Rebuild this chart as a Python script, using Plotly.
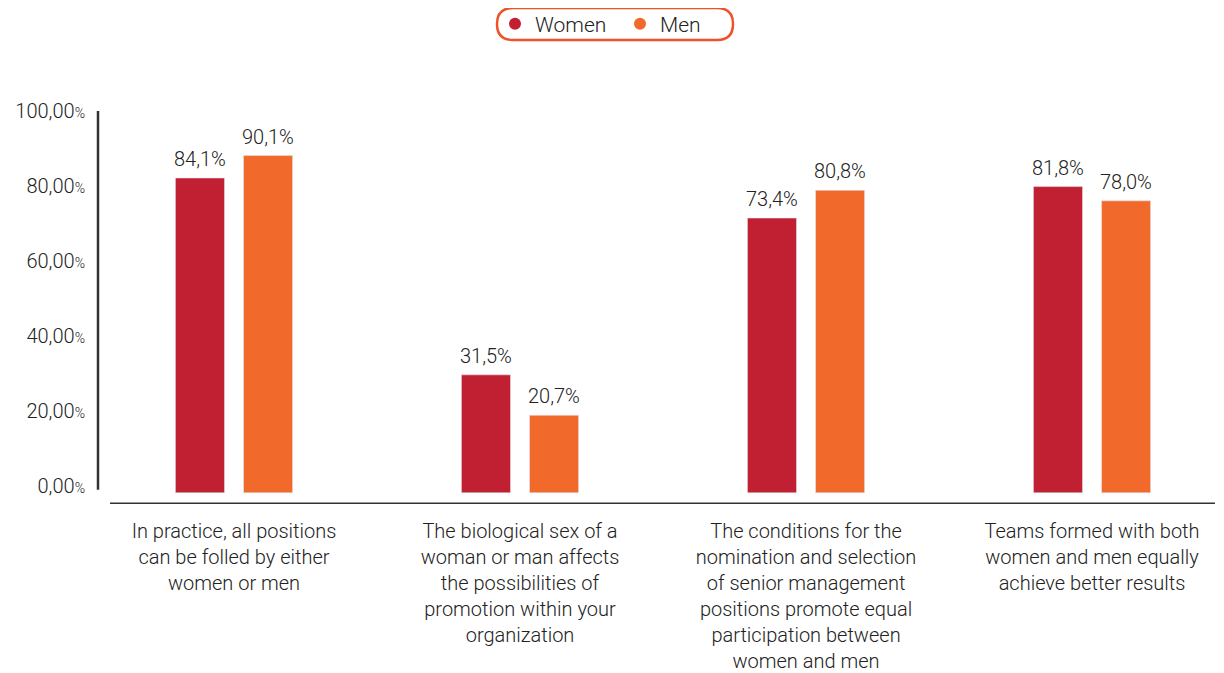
import plotly.graph_objects as go

categories = [
    "In practice, all positions<br>can be folled by either<br>women or men",
    "The biological sex of a<br>woman or man affects<br>the possibilities of<br>promotion within your<br>organization",
    "The conditions for the<br>nomination and selection<br>of senior management<br>positions promote equal<br>participation between<br>women and men",
    "Teams formed with both<br>women and men equally<br>achieve better results",
]
women = [84.1, 31.5, 73.4, 81.8]
men = [90.1, 20.7, 80.8, 78.0]
tick_vals = [0, 20, 40, 60, 80, 100]
tick_text = ["0,00", "20,00", "40,00", "60,00", "80,00", "100,00"]

WOMEN_C = "#C11F32"
MEN_C = "#F2692C"
FONT = "Roboto"
TXT = "#222222"

def fmt(v):
    return f"{v:.1f}".replace(".", ",") + "%"

fig = go.Figure()
for name, vals, col in [("Women", women, WOMEN_C), ("Men", men, MEN_C)]:
    fig.add_trace(go.Bar(
        x=categories, y=vals, name=name, marker_color=col,
        showlegend=False, cliponaxis=False,
    ))
# legend proxies (circle symbols)
for name, col in [("Women", WOMEN_C), ("Men", MEN_C)]:
    fig.add_trace(go.Scatter(x=[None], y=[None], mode="markers", name=name,
                             marker=dict(color=col, size=12, symbol="circle")))

W, H = 1224, 673
OFF = 8  # page body margin
L, T = 98 - OFF, 111 - OFF
R = W - (1215 - OFF)
B = H - (504 - OFF)
pw, ph = W - L - R, H - T - B

def px(x):  # page x -> paper
    return (x - OFF - L) / pw

def py(y):  # page y -> paper
    return (H - B - (y - OFF)) / ph

# value labels above bars
annotations = []
for vals, shift in [(women, -34), (men, 34)]:
    for c, v in zip(categories, vals):
        annotations.append(dict(
            x=c, y=v, xref="x", yref="y", text=fmt(v), showarrow=False,
            xshift=shift, yshift=5, yanchor="bottom", xanchor="center",
            font=dict(family=FONT, size=20, color=TXT, weight=300),
        ))

# rounded legend frame
x0, x1, y0, y1 = px(497), px(733), py(40), py(8)
rx, ry = 16 / pw, 16 / ph
path = (f"M {x0+rx},{y1} L {x1-rx},{y1} Q {x1},{y1} {x1},{y1-ry} "
        f"L {x1},{y0+ry} Q {x1},{y0} {x1-rx},{y0} L {x0+rx},{y0} "
        f"Q {x0},{y0} {x0},{y0+ry} L {x0},{y1-ry} Q {x0},{y1} {x0+rx},{y1} Z")

fig.update_layout(
    width=W, height=H,
    margin=dict(l=L, r=R, t=T, b=B, autoexpand=False),
    paper_bgcolor="white", plot_bgcolor="white",
    barmode="group", bargap=0.524, bargroupgap=0.279,
    font=dict(family=FONT, color=TXT, weight=300),
    legend=dict(orientation="h", xref="container", x=0.5, xanchor="center",
                yref="container", y=1 - (24 - OFF) / H, yanchor="middle", entrywidth=80,
                font=dict(family=FONT, size=21, color=TXT, weight=300),
                bgcolor="rgba(0,0,0,0)"),
    xaxis=dict(range=[-0.4755, 3.43], showline=False, showgrid=False, zeroline=False,
               automargin=False,
               ticks="", tickfont=dict(family=FONT, size=20, color=TXT, weight=300),
               ticklabelstandoff=13),
    yaxis=dict(range=[-3, 102], showline=False, showgrid=False, zeroline=False,
               automargin=False, tickvals=tick_vals,
               ticktext=[t + "<span style='font-size:14px'>%</span>" for t in tick_text],
               tickfont=dict(family=FONT, size=20, color=TXT, weight=300),
               ticks="", ticklabelstandoff=12, ticklabelshift=-7),
    annotations=annotations,
    shapes=[
        dict(type="line", xref="paper", yref="y", x0=0, x1=0, y0=0.8, y1=102,
             line=dict(color="#333333", width=2.5)),
        dict(type="line", xref="paper", yref="y", x0=px(110), x1=1, y0=-3, y1=-3,
             line=dict(color="#333333", width=3)),
        dict(type="path", xref="paper", yref="paper", path=path,
             line=dict(color="#EF5128", width=2.5), fillcolor="rgba(0,0,0,0)"),
    ],
)

fig.write_html("out.html")
